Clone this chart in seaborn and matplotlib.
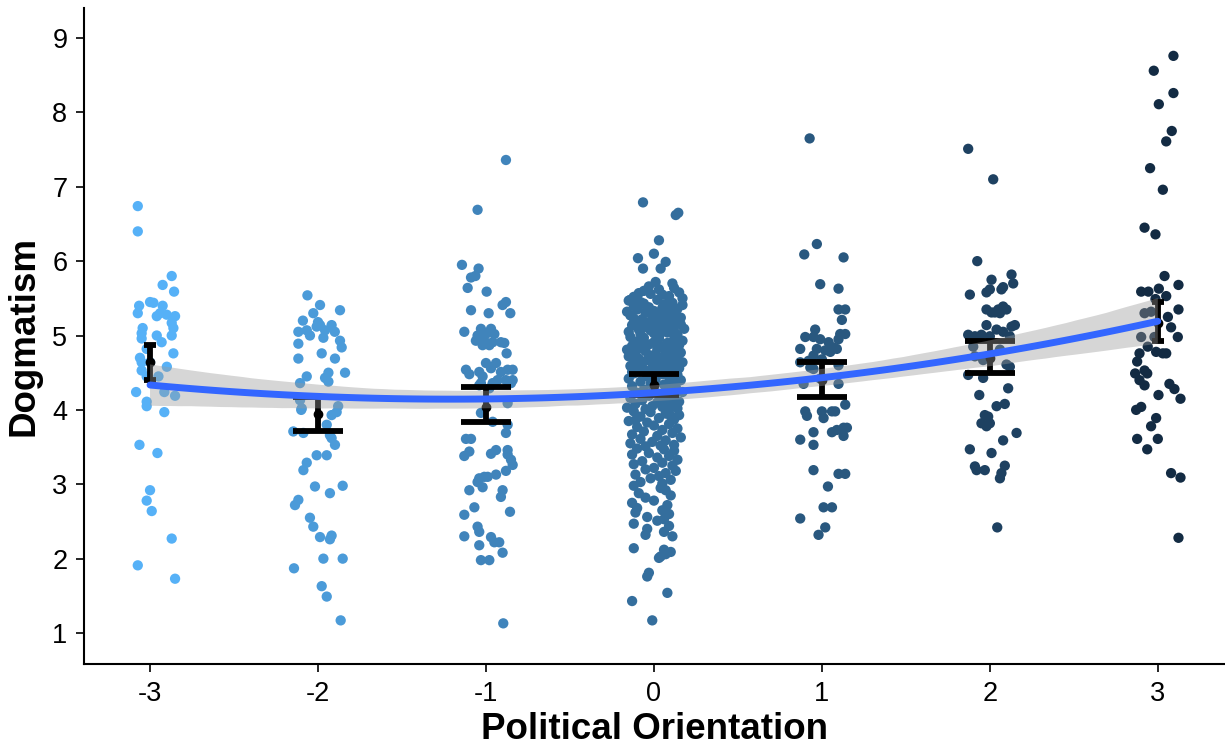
import numpy as np
import pandas as pd
import matplotlib
matplotlib.use("Agg")
import matplotlib.pyplot as plt
import seaborn as sns

# ---------------- data ----------------
groups = [-3, -2, -1, 0, 1, 2, 3]

# group -3 : jitter offsets (x units) and Dogmatism values
gm3_dx = [-0.073, -0.073, 0.129, 0.075, 0.143, 0.0, 0.02, -0.065, 0.075, -0.073, 0.06, 0.099, 0.149, 0.04,
          0.129, -0.044, 0.139, -0.05, 0.04, 0.129, -0.05, 0.069, -0.02, 0.139, -0.05, 0.0, -0.05, -0.02,
          0.05, -0.083, 0.085, 0.149, -0.02, -0.02, 0.085, -0.063, 0.044, 0.0, -0.02, 0.01, 0.129, -0.073, 0.149,
          0.10, -0.06]
gm3_y = [6.74, 6.40, 5.80, 5.68, 5.59, 5.45, 5.44, 5.40, 5.40, 5.30, 5.30, 5.28, 5.26, 5.26,
         5.17, 5.10, 5.10, 5.03, 5.00, 5.00, 4.96, 4.91, 4.82, 4.76, 4.64, 4.64, 4.53, 4.45,
         4.45, 4.24, 4.24, 4.19, 4.11, 4.05, 3.97, 3.53, 3.42, 2.92, 2.78, 2.64, 2.27, 1.91, 1.73,
         4.58, 4.70]

gm2_dx = [-0.063, 0.012, -0.028, 0.131, -0.117, -0.067, -0.008, 0.012, 0.042, 0.081, -0.048, 0.032, 0.131,
          0.141, -0.117, -0.117, 0.022, 0.101, 0.161, 0.062, -0.067, 0.042, 0.062, -0.107, -0.107, -0.097,
          0.111, 0.081, 0.052, -0.147, -0.087, 0.071, 0.081, 0.101, -0.008, 0.052, -0.067, -0.087, -0.018,
          0.071, 0.147, -0.117, -0.137, -0.048, -0.028, 0.012, 0.081, 0.071, 0.032, 0.147, -0.143, 0.022,
          0.052, 0.135, 0.0, -0.09, 0.10, -0.10, 0.12]
gm2_y = [5.54, 5.41, 5.30, 5.34, 5.05, 5.07, 5.12, 5.14, 5.07, 5.14, 5.00, 4.97, 4.93,
         4.84, 4.89, 4.69, 4.76, 4.69, 4.50, 4.50, 4.45, 4.43, 4.38, 4.36, 4.13, 4.02,
         3.97, 3.93, 3.80, 3.71, 3.69, 3.66, 3.62, 3.53, 3.39, 3.39, 3.29, 3.19, 2.97,
         2.88, 2.98, 2.79, 2.72, 2.55, 2.43, 2.29, 2.31, 2.26, 2.00, 2.00, 1.87, 1.63,
         1.49, 1.17, 5.18, 5.20, 5.05, 4.00, 4.05]

gm1_dx = [0.119, -0.05, -0.143, -0.044, -0.089, -0.063, -0.109, 0.004, 0.119, 0.099, -0.089, 0.016, 0.145,
          -0.129, -0.03, 0.03, -0.05, 0.0, 0.05, -0.06, -0.01, 0.04, 0.089, -0.02, 0.02, 0.109, 0.123,
          0.0, 0.06, 0.03, -0.119, -0.099, -0.04, -0.02, 0.089, 0.129, 0.159, 0.069, 0.119, 0.159, -0.03,
          0.04, -0.04, 0.149, 0.02, 0.129, -0.03, 0.04, 0.129, 0.119, -0.119, -0.089, -0.099, -0.129,
          0.06, 0.03, 0.129, 0.129, 0.149, 0.159, 0.119, 0.06, -0.04, -0.01, 0.01, -0.05, -0.02, -0.099,
          0.099, 0.089, -0.069, -0.129, 0.143, -0.05, -0.04, -0.129, 0.03, 0.05, 0.079, -0.04, 0.099,
          -0.03, 0.02, 0.103]
gm1_y = [7.36, 6.69, 5.95, 5.90, 5.78, 5.80, 5.64, 5.59, 5.45, 5.41, 5.34, 5.30, 5.30,
         5.05, 5.09, 5.09, 5.00, 5.02, 5.02, 4.93, 4.93, 4.91, 4.91, 4.87, 4.87, 4.90, 4.76,
         4.63, 4.63, 4.56, 4.54, 4.48, 4.51, 4.45, 4.51, 4.54, 4.54, 4.40, 4.40, 4.40, 4.36,
         4.36, 4.33, 4.36, 4.29, 4.09, 3.96, 3.84, 3.80, 3.69, 3.61, 3.61, 3.44, 3.38,
         3.46, 3.41, 3.46, 3.40, 3.33, 3.26, 3.18, 3.13, 3.08, 3.10, 3.10, 3.03, 2.96, 2.92,
         2.92, 2.83, 2.69, 2.59, 2.63, 2.43, 2.36, 2.30, 2.29, 2.22, 2.22, 2.18, 2.08,
         1.98, 1.98, 1.13]

g0_dx = [-0.065, 0.13, 0.145, 0.03, -0.095, 0.0, 0.07, -0.065, 0.04,
         0.01, -0.03, 0.12, 0.15, -0.06, 0.05, -0.12, 0.09, -0.02, 0.17, -0.09, 0.03, 0.11, -0.14,
         -0.15, -0.08, 0.02, 0.11, 0.17, -0.12, -0.03, 0.06, 0.14, -0.10, 0.00, 0.09, -0.05, 0.04, 0.13,
         -0.14, 0.08, -0.01, 0.16, -0.07, 0.12, -0.11, 0.03, 0.07, -0.04, 0.15, -0.13, 0.01, 0.10, -0.06,
         0.05, 0.18, -0.09, -0.02, 0.12, -0.15, 0.08, 0.00, -0.08, 0.14, 0.03, -0.12, 0.06, -0.04, 0.10,
         0.16, -0.10, 0.02, -0.16, 0.09, -0.06, 0.13, -0.01, 0.05, 0.11,
         -0.14, -0.06, 0.03, 0.12, 0.17, -0.10, 0.00, 0.08, -0.03, 0.15, -0.13, 0.05, 0.10, -0.08, 0.02,
         -0.16, 0.13, -0.05, 0.07, 0.16, -0.11, 0.01, 0.09, -0.02, -0.15, 0.14, 0.04, -0.09, 0.11, -0.04,
         0.06, -0.12, 0.17, 0.00, -0.07, 0.12, 0.03, -0.14, 0.08, -0.01, 0.15, -0.10, 0.05, -0.05, 0.10,
         -0.13, 0.02, 0.13, -0.08, 0.07,
         -0.12, 0.05, 0.14, -0.04, 0.09, -0.15, 0.01, 0.16, -0.08, 0.11, -0.02, 0.06, -0.13, 0.13, 0.00,
         -0.06, 0.08, 0.17, -0.10, 0.03, -0.03, 0.12, -0.14, 0.07, -0.07, 0.15, 0.02, -0.11, 0.10, -0.01,
         0.05, -0.16, 0.14, -0.05, 0.09,
         -0.12, -0.02, 0.07, 0.15, -0.08, 0.03, 0.12, -0.15, -0.04, 0.09, 0.00, -0.10, 0.14, 0.05, -0.06,
         0.11, -0.13, 0.02, 0.16, -0.08, 0.07, -0.01, -0.14, 0.12, 0.04, -0.05, 0.10, -0.11,
         -0.10, 0.06, 0.12, -0.03, -0.13, 0.09, 0.02, 0.14, -0.07, 0.05, -0.12, 0.11, 0.00, -0.05, 0.13,
         0.07, -0.11, 0.03, -0.02, 0.10, -0.08, 0.05,
         -0.12, 0.04, 0.07, -0.09, 0.10, -0.05, 0.00, -0.13, 0.08, -0.10, 0.05, 0.09, -0.04, 0.06, -0.11, 0.02,
         -0.12, 0.09, -0.04, 0.06, -0.05, 0.11, -0.12, 0.06, 0.07, 0.04, 0.03, 0.10,
         -0.03, -0.04, 0.08, -0.13, -0.01]
g0_y = [6.79, 6.62, 6.65, 6.28, 6.04, 6.10, 5.99, 5.90, 5.90,
        5.72, 5.66, 5.64, 5.58, 5.60, 5.55, 5.52, 5.53, 5.56, 5.50, 5.57, 5.62, 5.70, 5.48,
        5.47, 5.45, 5.48, 5.44, 5.41, 5.40, 5.38, 5.42, 5.36, 5.35, 5.33, 5.34, 5.31, 5.29, 5.30,
        5.27, 5.26, 5.25, 5.24, 5.22, 5.21, 5.20, 5.19, 5.18, 5.17, 5.16, 5.14, 5.13, 5.12, 5.11,
        5.10, 5.09, 5.08, 5.07, 5.06, 5.05, 5.04, 5.03, 5.02, 5.01, 5.00, 5.23, 5.28, 5.36, 5.39,
        5.15, 5.12, 5.21, 5.32, 5.46, 5.43, 5.02, 5.10, 5.37, 5.25,
        4.98, 4.97, 4.96, 4.95, 4.93, 4.92, 4.91, 4.90, 4.88, 4.87, 4.86, 4.85, 4.84, 4.83, 4.82,
        4.81, 4.80, 4.79, 4.78, 4.77, 4.76, 4.75, 4.74, 4.73, 4.72, 4.71, 4.70, 4.69, 4.68, 4.67,
        4.66, 4.65, 4.64, 4.63, 4.62, 4.61, 4.60, 4.59, 4.58, 4.57, 4.56, 4.55, 4.54, 4.53, 4.52,
        4.51, 4.50, 4.94, 4.89, 4.61,
        4.49, 4.48, 4.47, 4.45, 4.44, 4.42, 4.41, 4.40, 4.38, 4.37, 4.35, 4.34, 4.32, 4.31, 4.29,
        4.27, 4.26, 4.24, 4.23, 4.21, 4.19, 4.18, 4.16, 4.15, 4.13, 4.11, 4.10, 4.08, 4.07, 4.05,
        4.04, 4.03, 4.02, 4.01, 4.00,
        3.98, 3.97, 3.95, 3.93, 3.91, 3.89, 3.87, 3.85, 3.83, 3.81, 3.79, 3.77, 3.75, 3.73, 3.71,
        3.69, 3.67, 3.65, 3.63, 3.61, 3.59, 3.57, 3.55, 3.53, 3.52, 3.51, 3.92, 3.86,
        3.48, 3.47, 3.45, 3.42, 3.40, 3.38, 3.36, 3.33, 3.31, 3.29, 3.27, 3.25, 3.22, 3.20, 3.18,
        3.15, 3.13, 3.11, 3.08, 3.06, 3.03, 3.01,
        2.98, 2.95, 2.92, 2.88, 2.85, 2.82, 2.78, 2.75, 2.72, 2.68, 2.65, 2.60, 2.56, 2.53, 2.62, 2.51,
        2.47, 2.44, 2.40, 2.36, 2.32, 2.30, 2.14, 2.12, 2.06, 2.03, 2.01, 2.09,
        1.81, 1.76, 1.54, 1.43, 1.17]

g1_dx = [-0.073, -0.03, -0.105, 0.129, -0.01, 0.099, 0.099, 0.139, 0.119, -0.04, -0.099, -0.05, -0.01,
         0.109, 0.139, 0.099, 0.04, 0.069, 0.02, -0.03, 0.05, 0.089, -0.129, -0.129, -0.079, -0.05, 0.0,
         -0.069, -0.05, 0.099, -0.109, 0.099, -0.01, 0.139, -0.099, -0.089, 0.0, 0.01, 0.06, 0.079,
         -0.05, 0.06, 0.089, 0.129, 0.149, 0.129, -0.129, -0.05, -0.05, 0.099, 0.139, 0.036, 0.01,
         0.06, -0.129, 0.02, -0.02]
g1_y = [7.65, 6.23, 6.09, 6.05, 5.69, 5.63, 5.35, 5.35, 5.21, 5.08, 4.98, 4.98, 4.95,
        5.02, 5.02, 4.95, 4.91, 4.84, 4.80, 4.82, 4.78, 4.82, 4.82, 4.64, 4.66, 4.73, 4.68,
        4.57, 4.55, 4.60, 4.35, 4.35, 4.42, 4.07, 3.98, 3.92, 3.98, 3.89, 3.98, 3.98,
        3.70, 3.70, 3.73, 3.76, 3.76, 3.65, 3.60, 3.53, 3.19, 3.14, 3.14, 2.97, 2.69,
        2.69, 2.54, 2.42, 2.32]

g2_dx = [-0.129, 0.02, -0.075, 0.129, 0.139, 0.01, 0.0, -0.02, 0.079, 0.069, -0.119, -0.02, 0.01,
         0.05, 0.079, 0.099, 0.06, 0.03, -0.02, 0.149, 0.129, 0.04, 0.079, -0.129, -0.089, -0.05, 0.0,
         0.119, -0.099, -0.089, -0.04, -0.04, 0.06, 0.099, 0.119, -0.129, 0.109, -0.063, 0.04, 0.089,
         -0.03, -0.01, -0.05, -0.02, 0.0, 0.159, 0.079, -0.119, 0.01, -0.089, -0.079, -0.03, 0.089,
         0.069, 0.06, 0.044]
g2_y = [7.51, 7.10, 6.00, 5.82, 5.70, 5.75, 5.62, 5.58, 5.65, 5.62, 5.55, 5.35, 5.31,
        5.35, 5.39, 5.35, 5.30, 5.31, 5.14, 5.14, 5.12, 5.08, 5.05, 5.01, 4.99, 5.01, 4.99,
        4.99, 4.85, 4.72, 4.67, 4.43, 4.81, 4.61, 4.58, 4.47, 4.29, 4.20, 4.05, 4.08,
        3.93, 3.91, 3.82, 3.78, 3.82, 3.69, 3.59, 3.47, 3.42, 3.24, 3.19, 3.19, 3.25,
        3.15, 3.08, 2.42]

g3_dx = [0.093, -0.024, 0.093, 0.006, 0.083, 0.05, -0.046, 0.03, -0.079, -0.014, 0.04, 0.123, -0.099,
         -0.056, 0.006, 0.05, -0.014, 0.123, 0.06, 0.079, -0.079, -0.04, 0.119, -0.099, -0.02, -0.06,
         -0.01, 0.03, 0.05, -0.109, -0.123, -0.135, -0.079, -0.063, -0.109, -0.079, 0.069, 0.099, 0.004,
         0.135, -0.129, -0.099, -0.01, -0.04, -0.123, 0.0, -0.063, 0.079, 0.135, 0.123]
g3_y = [8.76, 8.56, 8.26, 8.11, 7.75, 7.61, 7.25, 6.96, 6.45, 6.36, 5.80, 5.68, 5.59,
        5.59, 5.63, 5.53, 5.49, 5.35, 5.25, 5.11, 5.30, 5.32, 4.98, 4.98, 4.98, 4.85,
        4.78, 4.76, 4.76, 4.76, 4.65, 4.49, 4.53, 4.49, 4.40, 4.33, 4.35, 4.28, 4.20,
        4.15, 4.00, 4.04, 3.89, 3.78, 3.61, 3.61, 3.47, 3.15, 3.09, 2.28]

# group summaries (mean and interval)
err_mean = [4.64, 3.95, 4.04, 4.34, 4.40, 4.70, 5.17]
err_low = [4.40, 3.72, 3.84, 4.20, 4.17, 4.49, 4.92]
err_high = [4.87, 4.17, 4.31, 4.48, 4.65, 4.93, 5.45]

x_ticks = [-3, -2, -1, 0, 1, 2, 3]
y_ticks = [1, 2, 3, 4, 5, 6, 7, 8, 9]
x_label = "Political Orientation"
y_label = "Dogmatism"

# ---------------- build table ----------------
offs = [gm3_dx, gm2_dx, gm1_dx, g0_dx, g1_dx, g2_dx, g3_dx]
vals = [gm3_y, gm2_y, gm1_y, g0_y, g1_y, g2_y, g3_y]
rows = []
for g, dx, ys in zip(groups, offs, vals):
    n = min(len(dx), len(ys))
    for i in range(n):
        rows.append((g, g + dx[i], ys[i]))
df = pd.DataFrame(rows, columns=["group", "xj", "y"])

# ---------------- plot ----------------
sns.set_theme(style="ticks")
plt.rcParams["font.family"] = ["Liberation Sans", "DejaVu Sans"]

fig = plt.figure(figsize=(12.25, 7.51), dpi=100)
ax = fig.add_axes([0.0686, 0.1158, 0.9314, 0.8735])

pal = sns.blend_palette(["#56B1F7", "#132B43"], 7)
sns.scatterplot(data=df, x="xj", y="y", hue="group", palette=pal, hue_order=groups,
                s=55, linewidth=0, alpha=1, legend=False, ax=ax, zorder=2)

# error bars: wide caps for the inner groups, narrow for the outer ones
inner = [1, 2, 3, 4, 5]
outer = [0, 6]
for idx, cap in ((inner, 18), (outer, 4.5)):
    xs = [groups[i] for i in idx]
    m = np.array([err_mean[i] for i in idx])
    lo = np.array([err_low[i] for i in idx])
    hi = np.array([err_high[i] for i in idx])
    ax.errorbar(xs, m, yerr=[m - lo, hi - m], fmt="o", color="black", ms=6,
                elinewidth=4.2, capsize=cap, capthick=4.2, zorder=3)

# quadratic smooth with confidence band
n_before = len(ax.collections)
sns.regplot(data=df, x="group", y="y", order=2, scatter=False, ax=ax, seed=3,
            truncate=True, line_kws=dict(color="#3366FF", lw=5, zorder=5))
for coll in ax.collections[n_before:]:
    coll.set_facecolor("#999999")
    coll.set_alpha(0.4)
    coll.set_edgecolor("none")
    coll.set_zorder(4)

ax.set_xlim(-3.393, 3.40)
ax.set_ylim(0.583, 9.403)
ax.set_xticks(x_ticks)
ax.set_xticklabels([str(t) for t in x_ticks])
ax.set_yticks(y_ticks)
ax.tick_params(axis="both", labelsize=19.5, colors="black", length=6, width=1.2, pad=6)
ax.set_xlabel(x_label, fontsize=26.5, fontweight="bold", color="black", labelpad=4)
ax.set_ylabel(y_label, fontsize=26.5, fontweight="bold", color="black", labelpad=8)
for side in ("top", "right"):
    ax.spines[side].set_visible(False)
for side in ("left", "bottom"):
    ax.spines[side].set_color("black")
    ax.spines[side].set_linewidth(1.5)

fig.savefig("out.png", dpi=100)
